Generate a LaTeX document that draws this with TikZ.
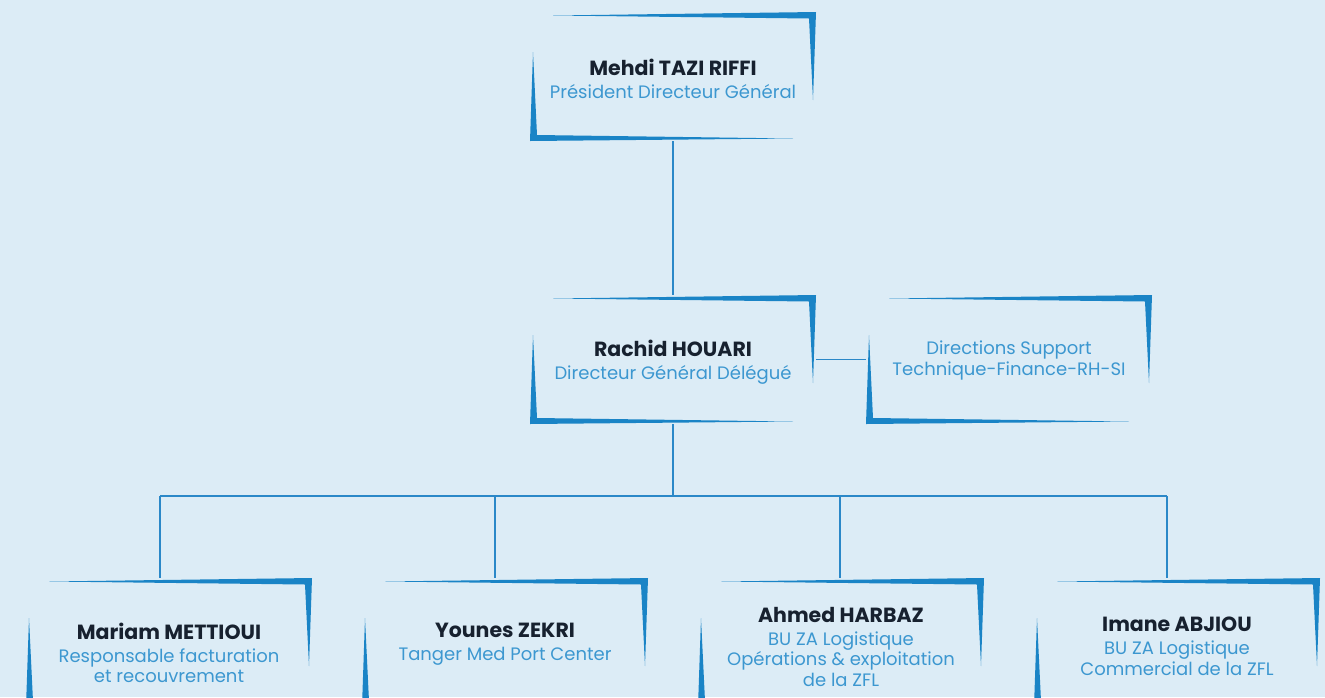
\documentclass[tikz,border=0pt]{standalone}
\usepackage{fontspec}
\setmainfont{Poppins}
\definecolor{bg}{HTML}{DCECF6}
\definecolor{frameblue}{HTML}{1A84C6}
\definecolor{linkblue}{HTML}{2B88C8}
\definecolor{namecol}{HTML}{17212F}
\definecolor{titlecol}{HTML}{3C97D0}
\newcommand\orgframe[1]{%
  \fill[frameblue] ([shift={(23,3.5)}]#1.north west) -- ([shift={(286,0)}]#1.north west)
     -- ([shift={(283,88)}]#1.north west) -- ([shift={(279,6.5)}]#1.north west) -- cycle;
  \fill[frameblue] ([shift={(3,40)}]#1.north west) -- ([shift={(0,129)}]#1.north west)
     -- ([shift={(263,126.5)}]#1.north west) -- ([shift={(7,123)}]#1.north west) -- cycle;}
\newcommand\nm[1]{{\fontsize{20.5}{20.5}\selectfont\bfseries\color{namecol}#1}}
\tikzset{
  orgbox/.style={minimum width=286pt, minimum height=129pt, inner sep=0pt, outer sep=0pt},
  orgtxt/.style={align=center, inner sep=0pt, text=titlecol, font=\fontsize{18}{20.5}\selectfont},
  link/.style={draw=linkblue, line width=1.6pt}
}
\begin{document}
\begin{tikzpicture}[x=1pt,y=-1pt]
\useasboundingbox (0,0) rectangle (1325,697);
\fill[bg] (0,0) rectangle (1325,697);
\node[orgbox] (b1) at (673,76.5) {};
\node[orgbox] (b2) at (673,359.5) {};
\node[orgbox] (b3) at (1009,359.5) {};
\node[orgbox] (b4) at (169,642.5) {};
\node[orgbox] (b5) at (505,642.5) {};
\node[orgbox] (b6) at (841,642.5) {};
\node[orgbox] (b7) at (1177,642.5) {};
\foreach \b in {b1,b2,b3,b4,b5,b6,b7}{\orgframe{\b}}
\node[orgtxt] (t1) at (673,78.5) {\nm{Mehdi TAZI RIFFI}\\[2.5pt] Président Directeur Général};
\node[orgtxt] (t2) at (673,362) {\nm{Rachid HOUARI}\\[2.5pt] Directeur Général Délégué};
\node[orgtxt] (t3) at (1009,360.5) {Directions Support\\ Technique-Finance-RH-SI};
\node[orgtxt] (t4) at (169,653) {\nm{Mariam METTIOUI}\\[2.5pt] Responsable facturation\\ et recouvrement};
\node[orgtxt] (t5) at (505,644) {\nm{Younes ZEKRI}\\[2.5pt] Tanger Med Port Center};
\node[orgtxt] (t6) at (841,646.75) {\nm{Ahmed HARBAZ}\\[2.5pt] BU ZA Logistique\\ Opérations \& exploitation\\ de la ZFL};
\node[orgtxt] (t7) at (1177,646.5) {\nm{Imane ABJIOU}\\[2.5pt] BU ZA Logistique\\ Commercial de la ZFL};
\draw[link] (b1.south) -- (b2.north);
\draw[link] (b2.east) -- (b3.west);
\coordinate (bus) at (673,496);
\coordinate (j4) at (160,496);
\coordinate (j5) at (495,496);
\coordinate (j6) at (840,496);
\coordinate (j7) at (1167,496);
\draw[link] (b2.south) -- (bus);
\draw[link] (j4) -- (j7);
\draw[link] (j4) -- (j4 |- b4.north);
\draw[link] (j5) -- (j5 |- b5.north);
\draw[link] (j6) -- (j6 |- b6.north);
\draw[link] (j7) -- (j7 |- b7.north);
\end{tikzpicture}
\end{document}
